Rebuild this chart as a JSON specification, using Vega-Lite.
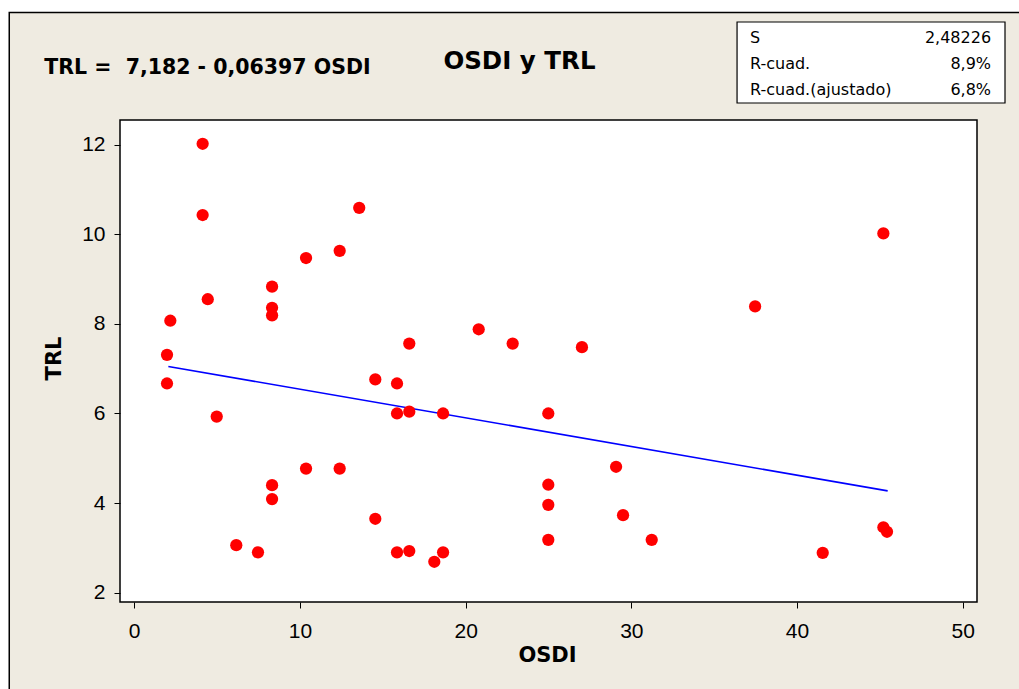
{
  "$schema": "https://vega.github.io/schema/vega-lite/v6.json",
  "width": 857,
  "height": 482,
  "autosize": {"type": "none"},
  "padding": {"left": 120, "top": 120, "right": 42, "bottom": 87},
  "background": "#FFFFFF",
  "config": {
    "view": {"stroke": null, "fill": null},
    "axisX": {
      "domain": false, "grid": false,
      "tickSize": 6, "tickColor": "#000000", "tickWidth": 1,
      "labelFont": "Liberation Sans", "labelFontSize": 21, "labelColor": "#000000",
      "labelPadding": 12, "labelBaseline": "top",
      "titleFont": "DejaVu Sans", "titleFontWeight": "bold", "titleFontSize": 21, "titleColor": "#000000",
      "titleX": 427, "titleY": 53, "titleBaseline": "middle", "titleAlign": "center"
    },
    "axisY": {
      "domain": false, "grid": false,
      "tickSize": 6, "tickColor": "#000000", "tickWidth": 1,
      "labelFont": "Liberation Sans", "labelFontSize": 21, "labelColor": "#000000",
      "labelPadding": 9,
      "titleFont": "DejaVu Sans", "titleFontWeight": "bold", "titleFontSize": 21, "titleColor": "#000000",
      "titleAngle": -90, "titleX": -66, "titleY": 238, "titleBaseline": "middle", "titleAlign": "center"
    }
  },
  "datasets": {
    "uno": [{}],
    "puntos": [
      {"OSDI": 4.13, "TRL": 12.02},
      {"OSDI": 4.13, "TRL": 10.43},
      {"OSDI": 4.44, "TRL": 8.55},
      {"OSDI": 2.18, "TRL": 8.07},
      {"OSDI": 1.98, "TRL": 7.31},
      {"OSDI": 1.98, "TRL": 6.67},
      {"OSDI": 4.98, "TRL": 5.93},
      {"OSDI": 8.32, "TRL": 8.83},
      {"OSDI": 8.32, "TRL": 8.36},
      {"OSDI": 8.32, "TRL": 8.19},
      {"OSDI": 10.37, "TRL": 9.47},
      {"OSDI": 12.4, "TRL": 9.63},
      {"OSDI": 13.58, "TRL": 10.59},
      {"OSDI": 16.6, "TRL": 7.56},
      {"OSDI": 20.79, "TRL": 7.88},
      {"OSDI": 22.84, "TRL": 7.56},
      {"OSDI": 14.55, "TRL": 6.76},
      {"OSDI": 15.86, "TRL": 6.67},
      {"OSDI": 15.86, "TRL": 6.0},
      {"OSDI": 16.6, "TRL": 6.04},
      {"OSDI": 18.64, "TRL": 6.0},
      {"OSDI": 24.99, "TRL": 6.0},
      {"OSDI": 10.37, "TRL": 4.77},
      {"OSDI": 12.4, "TRL": 4.77},
      {"OSDI": 8.32, "TRL": 4.4},
      {"OSDI": 8.32, "TRL": 4.09},
      {"OSDI": 14.55, "TRL": 3.65},
      {"OSDI": 6.16, "TRL": 3.06},
      {"OSDI": 7.47, "TRL": 2.9},
      {"OSDI": 15.86, "TRL": 2.9},
      {"OSDI": 16.6, "TRL": 2.93},
      {"OSDI": 18.11, "TRL": 2.69},
      {"OSDI": 18.64, "TRL": 2.9},
      {"OSDI": 24.99, "TRL": 4.41},
      {"OSDI": 24.99, "TRL": 3.96},
      {"OSDI": 24.99, "TRL": 3.18},
      {"OSDI": 27.02, "TRL": 7.48},
      {"OSDI": 29.08, "TRL": 4.81},
      {"OSDI": 29.5, "TRL": 3.73},
      {"OSDI": 31.23, "TRL": 3.18},
      {"OSDI": 37.47, "TRL": 8.39},
      {"OSDI": 41.55, "TRL": 2.89},
      {"OSDI": 45.21, "TRL": 10.02},
      {"OSDI": 45.21, "TRL": 3.46},
      {"OSDI": 45.43, "TRL": 3.36}
    ],
    "ajuste": [
      {"OSDI": 2.06, "TRL": 7.05},
      {"OSDI": 45.47, "TRL": 4.273}
    ]
  },
  "layer": [
    {
      "data": {"name": "uno"},
      "mark": {"type": "rect", "fill": "#EFEBE1", "stroke": "#000000", "strokeWidth": 1.5},
      "encoding": {
        "x": {"datum": -7.54, "type": "quantitative", "scale": {"domain": [-0.857, 50.86], "nice": false, "zero": false}, "axis": {"title": "OSDI", "zindex": 2, "values": [0, 10, 20, 30, 40, 50]}},
        "x2": {"datum": 62},
        "y": {"datum": 14.951, "type": "quantitative", "scale": {"domain": [1.792, 12.551], "nice": false, "zero": false}, "axis": {"title": "TRL", "zindex": 2, "values": [2, 4, 6, 8, 10, 12]}},
        "y2": {"datum": -2}
      }
    },
    {
      "data": {"name": "uno"},
      "mark": {"type": "rect", "fill": "#FFFFFF", "stroke": "#000000", "strokeWidth": 1.5},
      "encoding": {
        "x": {"datum": -0.857, "type": "quantitative"},
        "x2": {"datum": 50.86},
        "y": {"datum": 1.792, "type": "quantitative"},
        "y2": {"datum": 12.551}
      }
    },
    {
      "data": {"name": "ajuste"},
      "mark": {"type": "line", "color": "#0000FF", "strokeWidth": 1.6},
      "encoding": {
        "x": {"field": "OSDI", "type": "quantitative", "title": "OSDI"},
        "y": {"field": "TRL", "type": "quantitative", "title": "TRL"}
      }
    },
    {
      "data": {"name": "puntos"},
      "mark": {"type": "circle", "color": "#FF0000", "opacity": 1, "size": 150},
      "encoding": {
        "x": {"field": "OSDI", "type": "quantitative", "title": "OSDI"},
        "y": {"field": "TRL", "type": "quantitative", "title": "TRL"}
      }
    },
    {
      "data": {"name": "uno"},
      "mark": {"type": "text", "text": "TRL =\u00a0 7,182 - 0,06397 OSDI", "font": "DejaVu Sans", "fontWeight": "bold", "fontSize": 20.5, "color": "#000000", "align": "left", "baseline": "middle"},
      "encoding": {
        "x": {"datum": -5.43, "type": "quantitative"},
        "y": {"datum": 13.712, "type": "quantitative"}
      }
    },
    {
      "data": {"name": "uno"},
      "mark": {"type": "text", "text": "OSDI y TRL", "font": "DejaVu Sans", "fontWeight": "bold", "fontSize": 24.5, "color": "#000000", "align": "center", "baseline": "middle"},
      "encoding": {
        "x": {"datum": 23.25, "type": "quantitative"},
        "y": {"datum": 13.85, "type": "quantitative"}
      }
    },
    {
      "data": {"name": "uno"},
      "mark": {"type": "rect", "fill": "#FFFFFF", "stroke": "#000000", "strokeWidth": 1.2},
      "encoding": {
        "x": {"datum": 36.38, "type": "quantitative"},
        "x2": {"datum": 52.55},
        "y": {"datum": 14.739, "type": "quantitative"},
        "y2": {"datum": 12.931}
      }
    },
    {
      "data": {"name": "uno"},
      "mark": {"type": "text", "text": ["S", "R-cuad.", "R-cuad.(ajustado)"], "font": "DejaVu Sans", "fontSize": 16, "color": "#000000", "align": "left", "baseline": "alphabetic", "lineHeight": 25.8},
      "encoding": {
        "x": {"datum": 37.16, "type": "quantitative"},
        "y": {"datum": 14.263, "type": "quantitative"}
      }
    },
    {
      "data": {"name": "uno"},
      "mark": {"type": "text", "text": ["2,48226", "8,9%", "6,8%"], "font": "DejaVu Sans", "fontSize": 16, "color": "#000000", "align": "right", "baseline": "alphabetic", "lineHeight": 25.8},
      "encoding": {
        "x": {"datum": 51.71, "type": "quantitative"},
        "y": {"datum": 14.263, "type": "quantitative"}
      }
    }
  ]
}
